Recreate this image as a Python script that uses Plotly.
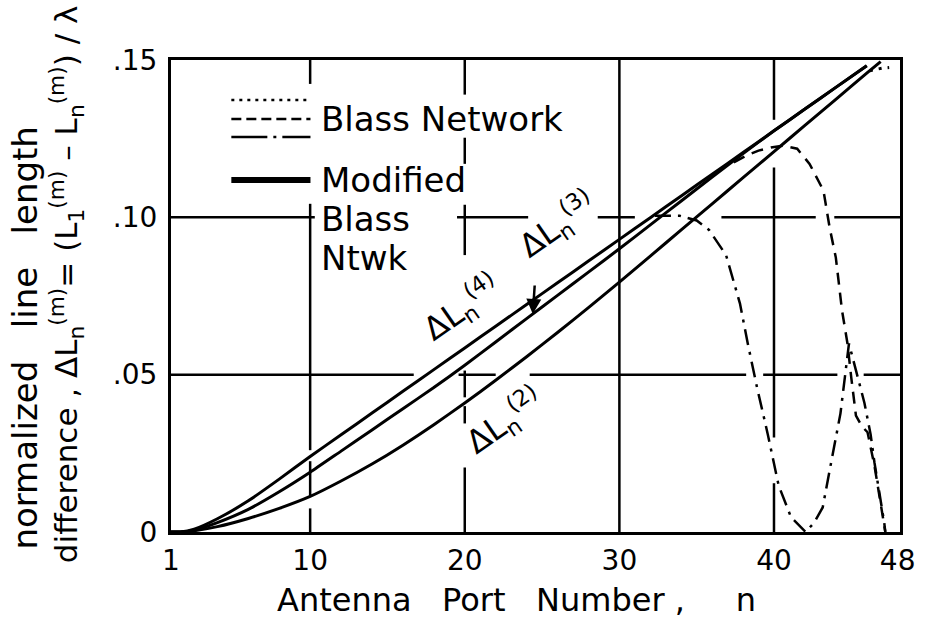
import numpy as np
import plotly.graph_objects as go

# ---- data: normalized line-length difference vs antenna port number ----
# Modified Blass network, m = 4, 3, 2 (solid)
n_m4 = [1, 1.6, 2.5, 4, 6, 8, 10, 12, 14, 16, 18, 20, 22, 24, 26, 28, 30, 32, 34, 36, 38, 40, 42, 44, 46]
dl_m4 = [0, 0, 0.0009, 0.0042, 0.0099, 0.0168, 0.024, 0.0309, 0.0378, 0.0447, 0.0516, 0.0585, 0.0654, 0.0723,
         0.0792, 0.0861, 0.093, 0.0999, 0.1068, 0.1137, 0.1206, 0.1275, 0.1344, 0.1413, 0.1482]
n_m3 = [1, 1.6, 2.5, 4, 6, 8, 10, 12, 14, 16, 18, 20, 22, 24, 26, 28, 30, 32, 34, 36, 38, 40, 42, 44, 46]
dl_m3 = [0, 0, 0.0006, 0.003, 0.0072, 0.0128, 0.019, 0.0257, 0.0324, 0.0392, 0.0459, 0.053, 0.0604, 0.0678,
         0.0752, 0.0826, 0.090, 0.0976, 0.1052, 0.1128, 0.1203, 0.1275, 0.1344, 0.1413, 0.1482]
n_m2 = [1, 1.6, 2.5, 4, 6, 8, 10, 12, 14, 16, 18, 20, 22, 24, 26, 28, 30, 32, 34, 36, 38, 40, 42, 44, 46, 46.9]
dl_m2 = [0, 0, 0.0004, 0.0017, 0.0043, 0.0075, 0.0113, 0.0162, 0.0216, 0.0276, 0.0341, 0.041, 0.0482, 0.0557,
         0.0634, 0.0713, 0.0794, 0.0877, 0.096, 0.1043, 0.1126, 0.1209, 0.1292, 0.1375, 0.1458, 0.1495]

# Blass network, departing from the modified curves
n_b2 = [46.2, 46.6, 47.0, 47.45]
dl_b2 = [0.1466, 0.1471, 0.1474, 0.1476]
n_b3 = [37.4, 38.3, 39.0, 39.8, 40.6, 41.5, 42.3, 42.8, 43.2, 43.6, 44.0, 44.4, 44.75, 45.0, 45.3,
        45.7, 46.05, 46.5, 47.2]
dl_b3 = [0.1175, 0.1198, 0.1212, 0.1222, 0.1228, 0.1218, 0.117, 0.1125, 0.1085, 0.0967, 0.0872, 0.0704,
         0.060, 0.049, 0.037, 0.0335, 0.0317, 0.021, 0.0]
n_b4 = [32.3, 33.9, 35.0, 35.8, 36.9, 37.8, 38.3, 38.9, 39.6, 40.3, 41.1, 42.05, 42.6, 43.15, 43.6, 44.0,
        44.3, 44.85, 45.3, 45.85, 46.25, 46.5, 47.13, 47.2]
dl_b4 = [0.1005, 0.1005, 0.099, 0.096, 0.088, 0.0726, 0.060, 0.046, 0.031, 0.0148, 0.0047, 0.0, 0.003,
         0.0078, 0.0196, 0.0293, 0.0377, 0.0599, 0.051, 0.041, 0.031, 0.022, 0.003, 0.0]

x_ticks = [1, 10, 20, 30, 40, 48]
y_ticks = [0, 0.05, 0.10, 0.15]
y_ticktext = ["0", ".05", ".10", ".15"]

# hand-drafted grid: segments broken where curves and labels pass
grid_v = {
    10: [(0.1424, 0.15), (0.026, 0.1043), (0.0115, 0.0225), (0.0, 0.0075)],
    20: [(0.139, 0.15), (0.117, 0.1253), (0.088, 0.104), (0.0428, 0.0513), (0.0345, 0.040), (0.0, 0.0205)],
    30: [(0.0, 0.15)],
    40: [(0.131, 0.15), (0.030, 0.1158), (0.0, 0.0155)],
}
grid_h = {
    0.05: [(1, 16.7), (19.6, 22.0), (24.2, 38.2), (39.3, 44.1), (45.8, 48.15)],
    0.10: [(1, 10.3), (19.5, 24.1), (28.6, 31.0), (36.6, 42.7), (43.9, 48.15)],
}

FONT = "DejaVu Sans"
INK = "black"
NB = "\u00a0"

fig = go.Figure()

for nx, dy in [(n_m2, dl_m2), (n_m3, dl_m3), (n_m4, dl_m4)]:
    fig.add_trace(go.Scatter(x=nx, y=dy, mode="lines",
                             line=dict(color=INK, width=3, shape="spline", smoothing=0.5),
                             showlegend=False, hoverinfo="skip"))

fig.add_trace(go.Scatter(x=n_b2, y=dl_b2, mode="lines", line=dict(color=INK, width=3, dash="3px,6px"),
                         showlegend=False, hoverinfo="skip"))
fig.add_trace(go.Scatter(x=n_b3, y=dl_b3, mode="lines", line=dict(color=INK, width=2.5, dash="12px,8px"),
                         showlegend=False, hoverinfo="skip"))
fig.add_trace(go.Scatter(x=n_b4, y=dl_b4, mode="lines", line=dict(color=INK, width=2.5, dash="16px,7px,3px,7px"),
                         showlegend=False, hoverinfo="skip"))

shapes = []
for xv, segs in grid_v.items():
    for y0, y1 in segs:
        shapes.append(dict(type="line", xref="x", yref="y", x0=xv, x1=xv, y0=y0, y1=y1,
                           line=dict(color=INK, width=2.5), layer="below"))
for yv, segs in grid_h.items():
    for x0, x1 in segs:
        shapes.append(dict(type="line", xref="x", yref="y", x0=x0, x1=x1, y0=yv, y1=yv,
                           line=dict(color=INK, width=2.5), layer="below"))


# legend keys (paper coordinates from pixel positions)
def px_x(p):
    return (p - 171) / 737.0


def px_y(p):
    return (532 - p) / 472.0


key_styles = [(100, "3px,5px", 2.5), (119, "10px,5px", 2.5), (137, "36px,6px,3px,6px", 2.5), (180, None, 6)]
for yy, dash, w in key_styles:
    ln = dict(color=INK, width=w)
    if dash:
        ln["dash"] = dash
    shapes.append(dict(type="line", xref="paper", yref="paper", x0=px_x(232), x1=px_x(312),
                       y0=px_y(yy), y1=px_y(yy), line=ln))

annotations = []
legend_text = [("Blass" + NB + "Network", 119), ("Modified", 180), ("Blass", 219), ("Ntwk", 258)]
for txt, yy in legend_text:
    annotations.append(dict(text=txt, xref="paper", yref="paper", x=px_x(321), y=px_y(yy),
                            xanchor="left", yanchor="middle", showarrow=False,
                            font=dict(family=FONT, size=34, color=INK)))

# curve labels
lab_font = dict(family=FONT, size=32, color=INK)
for txt, nx, vy in [("ΔL<sub>n</sub><sup>(4)</sup>", 19.8, 0.0713),
                    ("ΔL<sub>n</sub><sup>(3)</sup>", 26.0, 0.0975),
                    ("ΔL<sub>n</sub><sup>(2)</sup>", 22.6, 0.0352)]:
    annotations.append(dict(text=txt, x=nx, y=vy, xref="x", yref="y", textangle=-35,
                            xanchor="center", yanchor="middle", showarrow=False, font=lab_font))

# arrow pointing at the m = 3 curve
tip_n = 24.4
tip_v = float(np.interp(tip_n, n_m3, dl_m3))
annotations.append(dict(text="", x=tip_n, y=tip_v, xref="x", yref="y", ax=2, ay=-30,
                        showarrow=True, arrowhead=2, arrowsize=1.2, arrowwidth=2.5, arrowcolor=INK))

# axis titles
xtitle = "Antenna" + NB * 3 + "Port" + NB * 3 + "Number" + NB + "," + NB * 5 + "n"
annotations.append(dict(text=xtitle, xref="paper", yref="paper",
                        x=px_x(520), y=px_y(600), xanchor="center", yanchor="middle", showarrow=False,
                        font=dict(family=FONT, size=32, color=INK)))
ytitle1 = "normalized" + NB * 3 + "line" + NB * 3 + "length"
annotations.append(dict(text=ytitle1, xref="paper", yref="paper",
                        x=px_x(23), y=px_y(338), textangle=-90, xanchor="center", yanchor="middle",
                        showarrow=False, font=dict(family=FONT, size=34, color=INK)))
ytitle2 = ("difference" + NB + "," + NB + "ΔL<sub>n</sub><sup>(m)</sup>=" + NB
           + "(L<sub>1</sub><sup>(m)</sup>" + NB + "–" + NB + "L<sub>n</sub><sup>(m)</sup>)" + NB + "/" + NB + "λ")
annotations.append(dict(text=ytitle2, xref="paper", yref="paper",
                        x=px_x(65), y=px_y(285), textangle=-90, xanchor="center", yanchor="middle",
                        showarrow=False, font=dict(family=FONT, size=31, color=INK)))

fig.update_layout(
    width=927, height=620,
    margin=dict(l=171, r=19, t=60, b=88),
    paper_bgcolor="white", plot_bgcolor="white",
    shapes=shapes, annotations=annotations,
    showlegend=False,
    font=dict(family=FONT, color=INK),
)
fig.update_xaxes(range=[1, 48.15], tickvals=x_ticks, ticktext=[str(t) for t in x_ticks],
                 showgrid=False, zeroline=False, showline=True, mirror=True, linecolor=INK, linewidth=3,
                 ticks="", ticklabelstandoff=1, tickfont=dict(family=FONT, size=28, color=INK))
fig.update_yaxes(range=[0, 0.15], tickvals=y_ticks, ticktext=y_ticktext,
                 showgrid=False, zeroline=False, showline=True, mirror=True, linecolor=INK, linewidth=3,
                 ticks="", ticklabelstandoff=5, tickfont=dict(family=FONT, size=28, color=INK))

fig.write_html("out.html")
